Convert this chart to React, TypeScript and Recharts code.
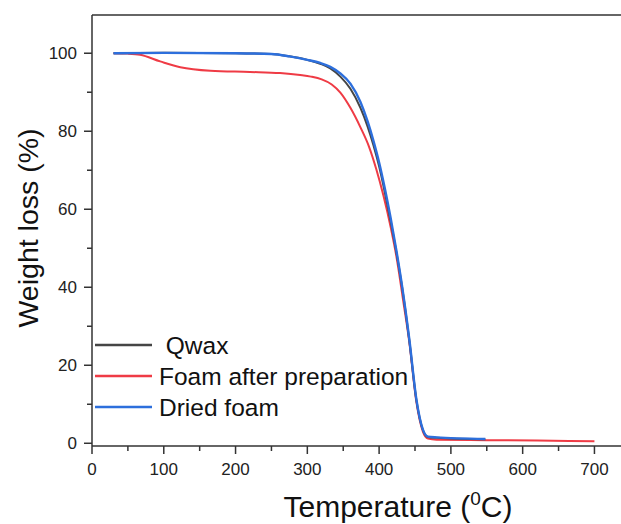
import { Legend, Line, LineChart, ReferenceLine, XAxis, YAxis } from "recharts";

// Qwax (black)
const qwaxTemp = [30, 100, 200, 250, 275, 300, 318, 332, 346, 360, 374, 384, 392, 400, 408, 416, 424, 432, 442, 452, 461, 468, 480, 548];
const qwaxWeight = [100, 100.1, 100, 99.8, 99.2, 98.3, 97.3, 96.1, 94.0, 90.9, 86.0, 81.2, 76.5, 71.0, 64.3, 57.0, 49.0, 40, 26.5, 11, 3.4, 1.6, 1.4, 1.0];

// Foam after preparation (red)
const foamTemp = [30, 50, 67, 95, 123, 165, 220, 262, 290, 305, 320, 334, 346, 360, 374, 386, 396, 406, 416, 424, 434, 442, 452, 461, 468, 480, 550, 620, 700];
const foamWeight = [100, 99.9, 99.6, 97.9, 96.4, 95.5, 95.2, 94.9, 94.4, 94.0, 93.3, 92.0, 89.9, 86.0, 81.0, 76.0, 70.3, 63.5, 55.5, 48.0, 36, 26, 10.5, 3, 1.2, 0.9, 0.8, 0.7, 0.5];

// Dried foam (blue)
const driedTemp = [30, 100, 200, 250, 275, 300, 318, 332, 346, 360, 374, 384, 392, 400, 408, 416, 424, 432, 442, 452, 461, 468, 480, 548];
const driedWeight = [100, 100.1, 100, 99.8, 99.2, 98.3, 97.5, 96.5, 94.8, 92.2, 87.5, 82.5, 77.6, 72.0, 65.3, 57.8, 49.5, 40.3, 26.8, 11.2, 3.5, 1.7, 1.5, 1.1];

const xTicks = [0, 50, 100, 150, 200, 250, 300, 350, 400, 450, 500, 550, 600, 650, 700];
const yTicks = [0, 10, 20, 30, 40, 50, 60, 70, 80, 90, 100];

const X_MAX = 737;
const Y_MIN = -0.7;
const Y_MAX = 109.8;

const AXIS = "#333333";
const FONT = "'Liberation Sans', Arial, sans-serif";

const series = [
  { name: "Foam after preparation", label: "Foam after preparation", color: "#ef3b45", width: 2, temp: foamTemp, weight: foamWeight },
  { name: "Qwax", label: " Qwax", color: "#454545", width: 2, temp: qwaxTemp, weight: qwaxWeight },
  { name: "Dried foam", label: "Dried foam", color: "#2d6fdc", width: 2.4, temp: driedTemp, weight: driedWeight },
];
const legendOrder = ["Qwax", "Foam after preparation", "Dried foam"];

const toPoints = (temp: number[], weight: number[]) => temp.map((t, i) => ({ t, w: weight[i] }));

function XTick({ x, y, payload }: any) {
  const major = payload.value % 100 === 0;
  return (
    <g>
      <line x1={x} x2={x} y1={y} y2={y + (major ? 8 : 5)} stroke={AXIS} strokeWidth={1.5} />
      {major && (
        <text x={x} y={y + 29} textAnchor="middle" fontSize={17} fontFamily={FONT} fill="#222">
          {payload.value}
        </text>
      )}
    </g>
  );
}

function YTick({ x, y, payload }: any) {
  const major = payload.value % 20 === 0;
  return (
    <g>
      <line x1={x} x2={x - (major ? 8 : 5)} y1={y} y2={y} stroke={AXIS} strokeWidth={1.5} />
      {major && (
        <text x={x - 15} y={y + 6} textAnchor="end" fontSize={17} fontFamily={FONT} fill="#222">
          {payload.value}
        </text>
      )}
    </g>
  );
}

function LegendBox() {
  return (
    <svg width={340} height={90} style={{ display: "block" }}>
      {legendOrder.map((n, i) => {
        const s = series.find((d) => d.name === n)!;
        const cy = 15 + i * 31;
        return (
          <g key={n}>
            <line x1={5} x2={62} y1={cy} y2={cy} stroke={s.color} strokeWidth={2.5} />
            <text x={69} y={cy + 9} fontSize={24.5} fontFamily={FONT} fill="#111" style={{ whiteSpace: "pre" }}>
              {s.label}
            </text>
          </g>
        );
      })}
    </svg>
  );
}

export default function App() {
  return (
    <div style={{ position: "absolute", left: 0, top: 0, width: 621, height: 524, background: "#fff" }}>
      <LineChart width={621} height={524} margin={{ top: 15, right: 0, bottom: 0, left: 0 }}>
        <XAxis
          type="number"
          dataKey="t"
          domain={[0, X_MAX]}
          ticks={xTicks}
          interval={0}
          height={78}
          tickSize={0}
          tickMargin={0}
          tickLine={false}
          axisLine={{ stroke: AXIS, strokeWidth: 1.5 }}
          tick={<XTick />}
          allowDataOverflow
          label={({ viewBox }: any) => (
            <text x={viewBox.x + 306} y={viewBox.y + 71} textAnchor="middle" fontSize={30} fontFamily={FONT} fill="#111">
              Temperature (
              <tspan fontSize={19} dy={-12}>0</tspan>
              <tspan dy={12}>C)</tspan>
            </text>
          )}
        />
        <YAxis
          type="number"
          dataKey="w"
          domain={[Y_MIN, Y_MAX]}
          ticks={yTicks}
          interval={0}
          width={92}
          tickSize={0}
          tickMargin={0}
          tickLine={false}
          axisLine={{ stroke: AXIS, strokeWidth: 1.5 }}
          tick={<YTick />}
          allowDataOverflow
          label={({ viewBox }: any) => {
            const cx = viewBox.x + 28;
            const cy = viewBox.y + 213;
            return (
              <text
                x={cx}
                y={cy}
                transform={`rotate(-90 ${cx} ${cy})`}
                textAnchor="middle"
                dominantBaseline="central"
                fontSize={28.5}
                fontFamily={FONT}
                fill="#111"
              >
                Weight loss (%)
              </text>
            );
          }}
        />
        <ReferenceLine y={Y_MAX} stroke={AXIS} strokeWidth={1.5} />
        {series.map((s) => (
          <Line
            key={s.name}
            data={toPoints(s.temp, s.weight)}
            dataKey="w"
            name={s.name}
            type="monotone"
            stroke={s.color}
            strokeWidth={s.width}
            dot={false}
            activeDot={false}
            isAnimationActive={false}
          />
        ))}
        <Legend
          layout="vertical"
          align="center"
          verticalAlign="middle"
          wrapperStyle={{ left: 90, top: 330, width: 340, height: 90 }}
          content={() => <LegendBox />}
        />
      </LineChart>
    </div>
  );
}
